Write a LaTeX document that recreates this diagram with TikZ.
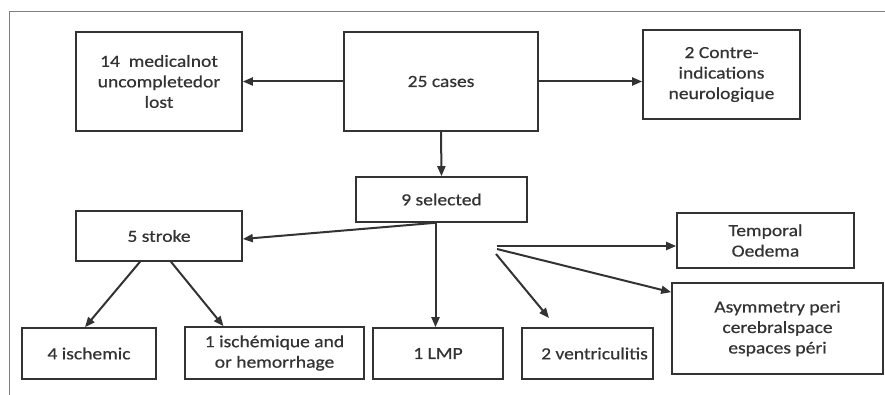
\documentclass[tikz,border=0pt]{standalone}
\usepackage{fontspec}
\setmainfont{Carlito}[FakeStretch=1.15,FakeBold=0.6]
\usetikzlibrary{arrows.meta}
\definecolor{inkgray}{HTML}{333333}
\begin{document}
\begin{tikzpicture}[x=1pt,y=-1pt,
  box/.style={draw=inkgray,line width=1.6pt,text=inkgray,align=center,inner sep=2pt,
    font=\fontsize{17}{20.5}\selectfont},
  link/.style={draw=inkgray,line width=2pt,-{Triangle[length=10pt,width=8pt]}}]
\useasboundingbox (0,0) rectangle (885,395);
\draw[gray,line width=1pt] (9,395) -- (9,12) -- (885,12);

\node[box,minimum width=166,minimum height=99] (medical) at (159,81.5) {14\ \ medicalnot\\uncompletedor\\lost};
\node[box,minimum width=194,minimum height=99] (cases) at (441,81.5) {25 cases};
\node[box,minimum width=157,minimum height=89] (contre) at (721.5,74.5) {2 Contre-\\indications\\neurologique};
\node[box,minimum width=171,minimum height=45] (selected) at (441.5,199.5) {9 selected};
\node[box,minimum width=166,minimum height=50] (stroke) at (159,236) {5 stroke};
\node[box,minimum width=134,minimum height=51] (ischemic) at (89,353.5) {4 ischemic};
\node[box,minimum width=179,minimum height=52] (mixed) at (274.5,353) {1 ischémique and\\or hemorrhage};
\node[box,minimum width=130,minimum height=51] (lmp) at (438,353.5) {1 LMP};
\node[box,minimum width=131,minimum height=51] (ventric) at (587.5,353.5) {\hspace*{14pt}2 ventriculitis};
\node[box,minimum width=177,minimum height=55] (temporal) at (765.5,240.5) {Temporal\\Oedema};
\node[box,minimum width=211,minimum height=91] (asym) at (777.5,328.5) {Asymmetry peri\\cerebralspace\\espaces péri};

\coordinate (split) at ([xshift=-6]selected.south);
\coordinate (fanA) at (497,246);
\coordinate (fanB) at (497,249);
\coordinate (fanC) at (496,254);
\coordinate (ventTip) at (549,318);

\draw[link] (cases.west) -- (medical.east);
\draw[link] (cases.east) -- (cases.east -| contre.west);
\draw[link] (cases.south) -- (selected.north);
\draw[link] (split) -- ([yshift=-3]stroke.east);
\draw[link] (split) -- (split |- lmp.north);
\draw[link] ([xshift=-19]stroke.south) -- ([xshift=-4]ischemic.north);
\draw[link] ([xshift=12]stroke.south) -- ([xshift=-51]mixed.north);
\draw[link] (fanA) -- (fanA -| temporal.west);
\draw[link] (fanB) -- ([yshift=-10]asym.north west);
\draw[link] (fanC) -- (ventTip);
\end{tikzpicture}
\end{document}
